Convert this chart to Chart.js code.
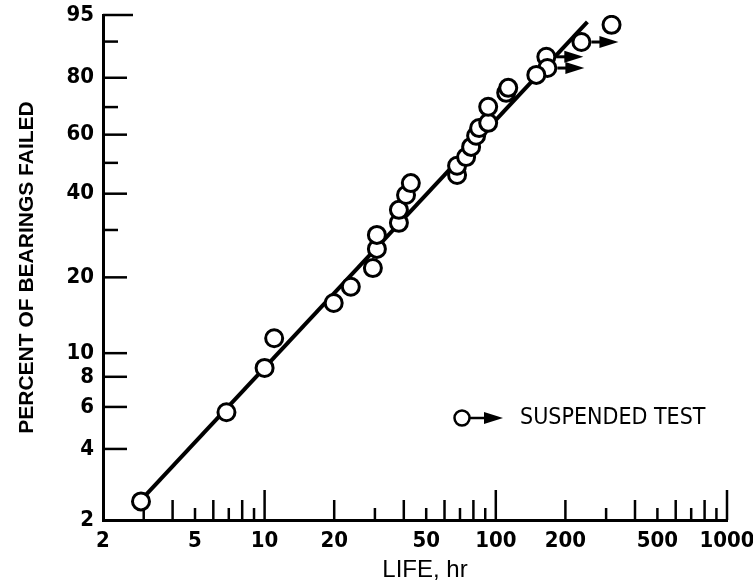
<!DOCTYPE html>
<html>
<head>
<meta charset="utf-8">
<script src="https://cdn.jsdelivr.net/npm/chart.js@4.4.1/dist/chart.umd.min.js"></script>
<style>
  html, body { margin: 0; padding: 0; background: #fff; }
  #wrap { width: 753px; height: 588px; }
</style>
</head>
<body>
<div id="wrap"><canvas id="weibullChart"></canvas></div>
<script>
// Vida (hr) y porcentaje de rodamientos fallados
const failLife = [2.92, 6.84, 10.0, 11.0, 19.9, 23.6, 29.4, 30.6, 30.6, 38.1, 38.1, 40.9, 42.9,
                  68.0, 68.0, 74.4, 78.2, 82.2, 84.7, 92.7, 92.7, 110.9, 113.2, 149.7, 316.7];
const failPct  = [2.4, 5.7, 8.7, 11.5, 15.9, 18.4, 21.7, 25.6, 28.8, 31.8, 35.3, 39.6, 43.3,
                  45.9, 49.0, 52.0, 55.6, 59.6, 62.4, 64.3, 70.1, 75.0, 76.7, 80.9, 93.4];

// Ensayos suspendidos (círculo con flecha)
const suspLife = [165.4, 167.1, 234.6];
const suspPct  = [86.2, 83.0, 89.9];

// Recta ajustada
const fitLife = [2.92, 249];
const fitPct  = [2.43, 93.9];

// Marcas de los ejes
const xTickVals   = [2, 3, 4, 5, 6, 7, 8, 9, 10, 20, 30, 40, 50, 60, 70, 80, 90, 100,
                     200, 300, 400, 500, 600, 700, 800, 900, 1000];
const xTickLabels = [2, 5, 10, 20, 50, 100, 200, 500, 1000];
const yTickVals   = [2, 4, 6, 8, 10, 20, 30, 40, 50, 60, 70, 80, 90, 95];
const yTickLabels = [2, 4, 6, 8, 10, 20, 40, 60, 80, 95];

// Escala de Weibull: ln(-ln(1 - F))
function weibull(pct) {
    return Math.log(-Math.log(1 - pct / 100));
}

function toPoints(xs, ys) {
    return xs.map((x, i) => ({ x: x, y: weibull(ys[i]) }));
}

const narrow = "'Liberation Sans Narrow', 'DejaVu Sans Condensed', sans-serif";
const tickFont = { family: narrow, size: 22, weight: 'bold' };

// Marcas hacia dentro, con longitudes distintas
const tickMarks = {
    id: 'tickMarks',
    beforeDatasetsDraw(chart) {
        const { ctx, chartArea: { left, bottom } } = chart;
        const xs = chart.scales.x, ys = chart.scales.y;
        ctx.save();
        ctx.strokeStyle = '#000';
        ctx.lineWidth = 2.5;
        xTickVals.forEach(v => {
            if (v === xTickVals[0]) return;
            const px = xs.getPixelForValue(v);
            const m = Math.round(v / Math.pow(10, Math.floor(Math.log10(v) + 1e-9)));
            const len = m === 1 ? 30 : (m % 2 === 0 ? 20 : 12);
            ctx.beginPath();
            ctx.moveTo(px, bottom);
            ctx.lineTo(px, bottom - len);
            ctx.stroke();
        });
        yTickVals.forEach(p => {
            if (p === yTickVals[0]) return;
            const py = ys.getPixelForValue(weibull(p));
            const len = p === 95 ? 30 : (yTickLabels.includes(p) ? 24 : 15);
            ctx.beginPath();
            ctx.moveTo(left, py);
            ctx.lineTo(left + len, py);
            ctx.stroke();
        });
        ctx.restore();
    }
};

function drawArrow(ctx, x0, x1, y) {
    ctx.beginPath();
    ctx.moveTo(x0, y);
    ctx.lineTo(x1 - 16, y);
    ctx.stroke();
    ctx.beginPath();
    ctx.moveTo(x1, y);
    ctx.lineTo(x1 - 19, y - 6);
    ctx.lineTo(x1 - 19, y + 6);
    ctx.closePath();
    ctx.fill();
}

// Flechas de ensayos suspendidos, leyenda y título del eje X
const suspendedArrows = {
    id: 'suspendedArrows',
    afterDatasetsDraw(chart) {
        const { ctx, chartArea } = chart;
        ctx.save();
        ctx.strokeStyle = '#000';
        ctx.fillStyle = '#000';
        ctx.lineWidth = 3;
        chart.getDatasetMeta(1).data.forEach(pt => {
            drawArrow(ctx, pt.x + 10, pt.x + 37, pt.y);
        });

        // leyenda
        const lx = chartArea.left + 359, ly = chartArea.top + 403;
        ctx.lineWidth = 2.5;
        ctx.fillStyle = '#fff';
        ctx.beginPath();
        ctx.arc(lx, ly, 7.5, 0, Math.PI * 2);
        ctx.fill();
        ctx.stroke();
        ctx.fillStyle = '#000';
        drawArrow(ctx, lx + 7.5, lx + 41, ly);
        ctx.font = '23px ' + narrow;
        ctx.textBaseline = 'middle';
        ctx.textAlign = 'left';
        ctx.fillText('SUSPENDED TEST', lx + 58, ly);

        // título del eje X
        ctx.font = "24px 'Liberation Sans', sans-serif";
        ctx.textAlign = 'center';
        ctx.fillText('LIFE, hr', chartArea.left + 322, chartArea.bottom + 50);
        ctx.restore();
    }
};

const ctx = document.getElementById('weibullChart');
new Chart(ctx, {
    type: 'scatter',
    data: {
        datasets: [{
            label: 'Failed',
            data: toPoints(failLife, failPct),
            pointRadius: 8.5,
            pointBorderWidth: 3,
            pointBorderColor: '#000',
            pointBackgroundColor: '#fff',
            order: 1
        }, {
            label: 'Suspended',
            data: toPoints(suspLife, suspPct),
            pointRadius: 8.5,
            pointBorderWidth: 3,
            pointBorderColor: '#000',
            pointBackgroundColor: '#fff',
            order: 1
        }, {
            label: 'Fit',
            data: toPoints(fitLife, fitPct),
            showLine: true,
            borderColor: '#000',
            borderWidth: 4,
            pointRadius: 0,
            order: 2
        }]
    },
    options: {
        responsive: true,
        maintainAspectRatio: false,
        animation: false,
        layout: { padding: { top: 15, right: 26, left: 0, bottom: 0 } },
        plugins: {
            legend: { display: false },
            tooltip: { enabled: false }
        },
        scales: {
            x: {
                type: 'logarithmic',
                min: 2,
                max: 1000,
                border: { display: true, color: '#000', width: 3 },
                grid: { display: false, drawTicks: false },
                afterBuildTicks: scale => {
                    scale.ticks = xTickVals.map(v => ({ value: v }));
                },
                afterFit: scale => {
                    scale.height = 68;
                    scale.paddingLeft = 0;
                    scale.paddingRight = 0;
                },
                ticks: {
                    autoSkip: false,
                    maxRotation: 0,
                    padding: 8,
                    color: '#000',
                    font: tickFont,
                    callback: value => xTickLabels.includes(value) ? String(value) : ''
                }
            },
            y: {
                type: 'linear',
                min: weibull(yTickVals[0]),
                max: weibull(yTickVals[yTickVals.length - 1]),
                border: { display: true, color: '#000', width: 3 },
                grid: { display: false, drawTicks: false },
                afterBuildTicks: scale => {
                    scale.ticks = yTickVals.map(p => ({ value: weibull(p) }));
                },
                afterFit: scale => {
                    scale.width = 103;
                    scale.paddingTop = 0;
                    scale.paddingBottom = 0;
                },
                ticks: {
                    autoSkip: false,
                    padding: 9,
                    color: '#000',
                    font: tickFont,
                    callback: (value, index) => yTickLabels.includes(yTickVals[index]) ? String(yTickVals[index]) : ''
                },
                title: {
                    display: true,
                    text: 'PERCENT OF BEARINGS FAILED',
                    color: '#000',
                    font: { family: "'Liberation Sans', sans-serif", size: 21, weight: 'bold' },
                    padding: { top: 15, bottom: 0 }
                }
            }
        }
    },
    plugins: [tickMarks, suspendedArrows]
});
</script>
</body>
</html>
